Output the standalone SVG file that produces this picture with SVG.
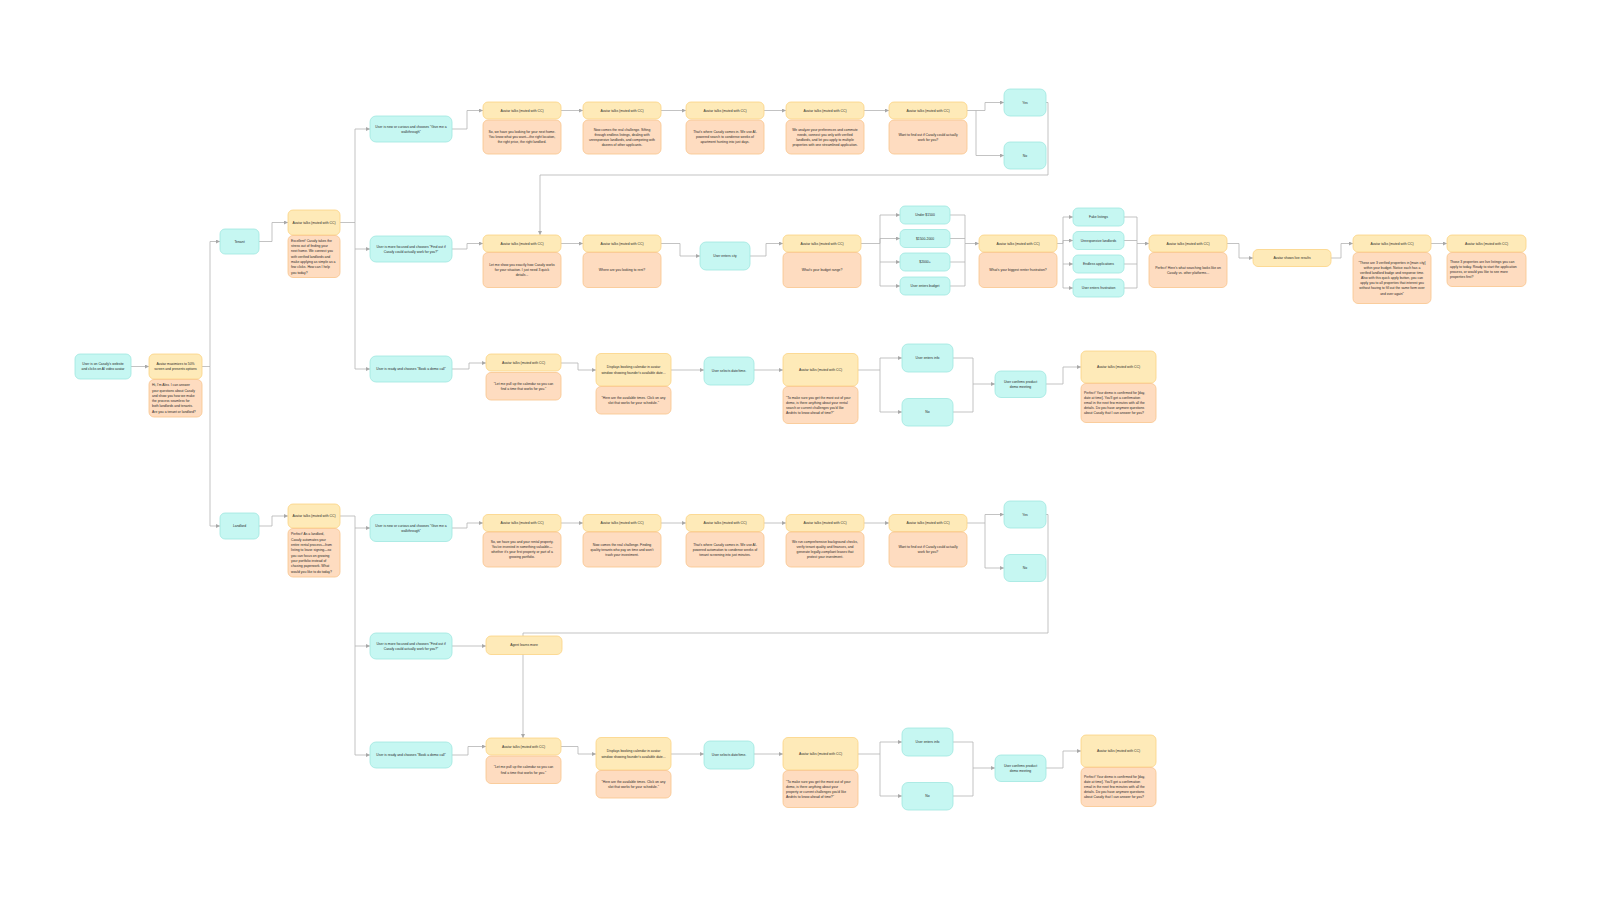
<svg xmlns="http://www.w3.org/2000/svg" width="1600" height="899" viewBox="0 0 1600 899">
<defs>
<marker id="arr" markerUnits="userSpaceOnUse" markerWidth="4" markerHeight="4" refX="4" refY="2" orient="auto"><path d="M0,0 L4,2 L0,4 z" fill="#a8a8a8"/></marker>
<style>
.c{fill:#c6f7f2;stroke:#a0e7df;stroke-width:0.8}
.y{fill:#feeab8;stroke:#fbd383;stroke-width:0.8}
.o{fill:#fedcc0;stroke:#f9c48c;stroke-width:0.8}
.t{font-family:"Liberation Sans",Arial,sans-serif;font-size:3.4px;fill:#2a2a2a;text-anchor:middle}
.l{text-anchor:start}
.e{fill:none;stroke:#b4b4b4;stroke-width:0.8;stroke-linejoin:round;marker-end:url(#arr)}
.n{fill:none;stroke:#b4b4b4;stroke-width:0.8;stroke-linejoin:round}
</style>
</defs>
<rect width="1600" height="899" fill="#ffffff"/>
<g id="connectors">
<path class="e" d="M131,366.5 H149"/>
<path class="e" d="M202,366.5 H210 V241.5 H220"/>
<path class="e" d="M210,366.5 V526 H220"/>
<path class="e" d="M259,241.5 H272 V222.5 H288"/>
<path class="e" d="M259,526 H272 V516 H288"/>
<path class="e" d="M340,222.5 H355 V129 H370"/>
<path class="e" d="M355,222.5 V249 H370"/>
<path class="e" d="M355,249 V369 H370"/>
<path class="e" d="M452,129 H467 V110.5 H483"/>
<path class="e" d="M561,110.5 H583"/>
<path class="e" d="M661,110.5 H686"/>
<path class="e" d="M764,110.5 H786"/>
<path class="e" d="M864,110.5 H889"/>
<path class="e" d="M967,110.5 H985 V102.5 H1004"/>
<path class="e" d="M976,110.5 V155.5 H1004"/>
<path class="e" d="M1046,102.5 H1048 V175 H540 V235"/>
<path class="e" d="M452,249 H467 V243.5 H483"/>
<path class="e" d="M561,243.5 H583"/>
<path class="e" d="M661,243.5 H680 V256 H700"/>
<path class="e" d="M750,256 H766 V243.5 H783"/>
<path class="e" d="M861,243.5 H880 V215 H900"/>
<path class="e" d="M880,243.5 V238.5 H900"/>
<path class="e" d="M880,243.5 V262 H900"/>
<path class="e" d="M880,262 V286 H900"/>
<path class="e" d="M950,215 H965 V243.5 H979"/>
<path class="n" d="M950,238.5 H965"/>
<path class="n" d="M950,262 H965 V243.5"/>
<path class="n" d="M950,286 H965 V262"/>
<path class="e" d="M1057,243.5 H1063 V217 H1073"/>
<path class="e" d="M1063,243.5 V240.5 H1073"/>
<path class="e" d="M1063,243.5 V264 H1073"/>
<path class="e" d="M1063,264 V288 H1073"/>
<path class="e" d="M1124,217 H1137 V243.5 H1149"/>
<path class="n" d="M1124,240.5 H1137"/>
<path class="n" d="M1124,264 H1137 V243.5"/>
<path class="n" d="M1124,288 H1137 V264"/>
<path class="e" d="M1227,243.5 H1239 V258 H1253"/>
<path class="e" d="M1331,258 H1341 V243.5 H1353"/>
<path class="e" d="M1431,243.5 H1447"/>
<path class="e" d="M452,369 H469 V363 H486"/>
<path class="e" d="M561,363 H578 V370 H596"/>
<path class="e" d="M671,370 H704"/>
<path class="e" d="M754,370 H783"/>
<path class="e" d="M858,370 H880 V358 H902"/>
<path class="e" d="M880,370 V412 H902"/>
<path class="e" d="M953,358 H973 V384 H995"/>
<path class="n" d="M953,412 H973 V384"/>
<path class="e" d="M1046,384 H1063 V367 H1081"/>
<path class="e" d="M340,516 H355 V528 H370"/>
<path class="e" d="M355,528 V646 H370"/>
<path class="e" d="M355,646 V755 H370"/>
<path class="e" d="M452,528 H467 V523 H483"/>
<path class="e" d="M561,523 H583"/>
<path class="e" d="M661,523 H686"/>
<path class="e" d="M764,523 H786"/>
<path class="e" d="M864,523 H889"/>
<path class="e" d="M967,523 H985 V514.5 H1004"/>
<path class="e" d="M985,523 V568 H1004"/>
<path class="e" d="M1046,514.5 H1048 V633 H523 V738"/>
<path class="e" d="M452,646 H486"/>
<path class="e" d="M452,755 H468 V746.5 H486"/>
<path class="e" d="M561,746.5 H578 V754 H596"/>
<path class="e" d="M671,754 H704"/>
<path class="e" d="M754,754 H783"/>
<path class="e" d="M858,754 H880 V742 H902"/>
<path class="e" d="M880,754 V796 H902"/>
<path class="e" d="M953,742 H973 V768 H995"/>
<path class="n" d="M953,796 H973 V768"/>
<path class="e" d="M1046,768 H1063 V751 H1081"/>
</g>

<g id="start"><rect class="c" x="75" y="354" width="56" height="25" rx="5"/><text class="t" x="103" y="365.15"><tspan x="103">User is on Casafy's website</tspan><tspan x="103" dy="5.1">and clicks on AI video avatar</tspan></text></g>
<g id="maximize"><rect class="y" x="149" y="354" width="53" height="25" rx="5"/><text class="t" x="175.5" y="365.15"><tspan x="175.5">Avatar maximizes to 50%</tspan><tspan x="175.5" dy="5.1">screen and presents options</tspan></text>
<rect class="o" x="149" y="379.5" width="53" height="37.5" rx="5"/><text class="t l" x="152" y="386.2"><tspan x="152">Hi, I'm Alex. I can answer</tspan><tspan x="152" dy="5.3">your questions about Casafy</tspan><tspan x="152" dy="5.3">and show you how we make</tspan><tspan x="152" dy="5.3">the process seamless for</tspan><tspan x="152" dy="5.3">both landlords and tenants.</tspan><tspan x="152" dy="5.3">Are you a tenant or landlord?</tspan></text></g>
<g id="tenant"><rect class="c" x="220" y="229" width="39" height="25" rx="5"/><text class="t" x="239.5" y="242.7">Tenant</text></g>
<g id="tenant-avatar"><rect class="y" x="288" y="210" width="52" height="25" rx="5"/><text class="t" x="314" y="223.7">Avatar talks (muted with CC)</text>
<rect class="o" x="288" y="235.5" width="52" height="42" rx="5"/><text class="t l" x="291" y="241.8"><tspan x="291">Excellent! Casafy takes the</tspan><tspan x="291" dy="5.3">stress out of finding your</tspan><tspan x="291" dy="5.3">next home. We connect you</tspan><tspan x="291" dy="5.3">with verified landlords and</tspan><tspan x="291" dy="5.3">make applying as simple as a</tspan><tspan x="291" dy="5.3">few clicks. How can I help</tspan><tspan x="291" dy="5.3">you today?</tspan></text></g>
<g id="landlord"><rect class="c" x="220" y="513" width="39" height="26" rx="5"/><text class="t" x="239.5" y="527.2">Landlord</text></g>
<g id="landlord-avatar"><rect class="y" x="288" y="504" width="52" height="24" rx="5"/><text class="t" x="314" y="517.2">Avatar talks (muted with CC)</text>
<rect class="o" x="288" y="528.5" width="52" height="48.5" rx="5"/><text class="t l" x="291" y="535.4"><tspan x="291">Perfect! As a landlord,</tspan><tspan x="291" dy="5.3">Casafy automates your</tspan><tspan x="291" dy="5.3">entire rental process—from</tspan><tspan x="291" dy="5.3">listing to lease signing—so</tspan><tspan x="291" dy="5.3">you can focus on growing</tspan><tspan x="291" dy="5.3">your portfolio instead of</tspan><tspan x="291" dy="5.3">chasing paperwork. What</tspan><tspan x="291" dy="5.3">would you like to do today?</tspan></text></g>

<g id="t-walk"><rect class="c" x="370" y="116" width="82" height="26" rx="6"/><text class="t" x="411" y="127.65"><tspan x="411">User is new or curious and chooses "Give me a</tspan><tspan x="411" dy="5.1">walkthrough"</tspan></text></g>
<g id="t-w1"><rect class="y" x="483" y="102" width="78" height="17" rx="5"/><text class="t" x="522" y="111.7">Avatar talks (muted with CC)</text>
<rect class="o" x="483" y="120" width="78" height="34" rx="5"/><text class="t" x="522" y="133.1"><tspan x="522">So, we have you looking for your next home.</tspan><tspan x="522" dy="5.1">You know what you want—the right location,</tspan><tspan x="522" dy="5.1">the right price, the right landlord.</tspan></text></g>
<g id="t-w2"><rect class="y" x="583" y="102" width="78" height="17" rx="5"/><text class="t" x="622" y="111.7">Avatar talks (muted with CC)</text>
<rect class="o" x="583" y="120" width="78" height="34" rx="5"/><text class="t" x="622" y="130.55"><tspan x="622">Now comes the real challenge. Sifting</tspan><tspan x="622" dy="5.1">through endless listings, dealing with</tspan><tspan x="622" dy="5.1">unresponsive landlords, and competing with</tspan><tspan x="622" dy="5.1">dozens of other applicants.</tspan></text></g>
<g id="t-w3"><rect class="y" x="686" y="102" width="78" height="17" rx="5"/><text class="t" x="725" y="111.7">Avatar talks (muted with CC)</text>
<rect class="o" x="686" y="120" width="78" height="34" rx="5"/><text class="t" x="725" y="133.1"><tspan x="725">That's where Casafy comes in. We use AI-</tspan><tspan x="725" dy="5.1">powered search to condense weeks of</tspan><tspan x="725" dy="5.1">apartment hunting into just days.</tspan></text></g>
<g id="t-w4"><rect class="y" x="786" y="102" width="78" height="17" rx="5"/><text class="t" x="825" y="111.7">Avatar talks (muted with CC)</text>
<rect class="o" x="786" y="120" width="78" height="34" rx="5"/><text class="t" x="825" y="130.55"><tspan x="825">We analyze your preferences and commute</tspan><tspan x="825" dy="5.1">needs, connect you only with verified</tspan><tspan x="825" dy="5.1">landlords, and let you apply to multiple</tspan><tspan x="825" dy="5.1">properties with one streamlined application.</tspan></text></g>
<g id="t-w5"><rect class="y" x="889" y="102" width="78" height="17" rx="5"/><text class="t" x="928" y="111.7">Avatar talks (muted with CC)</text>
<rect class="o" x="889" y="120" width="78" height="34" rx="5"/><text class="t" x="928" y="135.65"><tspan x="928">Want to find out if Casafy could actually</tspan><tspan x="928" dy="5.1">work for you?</tspan></text></g>
<g id="t-yes"><rect class="c" x="1004" y="89" width="42" height="27" rx="6"/><text class="t" x="1025" y="103.7">Yes</text></g>
<g id="t-no"><rect class="c" x="1004" y="142" width="42" height="27" rx="6"/><text class="t" x="1025" y="156.7">No</text></g>

<g id="t-find"><rect class="c" x="370" y="236" width="82" height="26" rx="6"/><text class="t" x="411" y="247.65"><tspan x="411">User is more focused and chooses "Find out if</tspan><tspan x="411" dy="5.1">Casafy could actually work for you?"</tspan></text></g>
<g id="t-f1"><rect class="y" x="483" y="235" width="78" height="17" rx="5"/><text class="t" x="522" y="244.7">Avatar talks (muted with CC)</text>
<rect class="o" x="483" y="252.5" width="78" height="35" rx="5"/><text class="t" x="522" y="266.1"><tspan x="522">Let me show you exactly how Casafy works</tspan><tspan x="522" dy="5.1">for your situation. I just need 3 quick</tspan><tspan x="522" dy="5.1">details...</tspan></text></g>
<g id="t-f2"><rect class="y" x="583" y="235" width="78" height="17" rx="5"/><text class="t" x="622" y="244.7">Avatar talks (muted with CC)</text>
<rect class="o" x="583" y="252.5" width="78" height="35" rx="5"/><text class="t" x="622" y="271.2">Where are you looking to rent?</text></g>
<g id="t-city"><rect class="c" x="700" y="242" width="50" height="28" rx="6"/><text class="t" x="725" y="257.2">User enters city</text></g>
<g id="t-f3"><rect class="y" x="783" y="235" width="78" height="17" rx="5"/><text class="t" x="822" y="244.7">Avatar talks (muted with CC)</text>
<rect class="o" x="783" y="252.5" width="78" height="35" rx="5"/><text class="t" x="822" y="271.2">What's your budget range?</text></g>
<g id="t-b1"><rect class="c" x="900" y="206" width="50" height="18" rx="5"/><text class="t" x="925" y="216.2">Under $1500</text></g>
<g id="t-b2"><rect class="c" x="900" y="229.5" width="50" height="18" rx="5"/><text class="t" x="925" y="239.7">$1500-2000</text></g>
<g id="t-b3"><rect class="c" x="900" y="253" width="50" height="18" rx="5"/><text class="t" x="925" y="263.2">$2000+</text></g>
<g id="t-b4"><rect class="c" x="900" y="277" width="50" height="18" rx="5"/><text class="t" x="925" y="287.2">User enters budget</text></g>
<g id="t-f4"><rect class="y" x="979" y="235" width="78" height="17" rx="5"/><text class="t" x="1018" y="244.7">Avatar talks (muted with CC)</text>
<rect class="o" x="979" y="252.5" width="78" height="35" rx="5"/><text class="t" x="1018" y="271.2">What's your biggest renter frustration?</text></g>
<g id="t-r1"><rect class="c" x="1073" y="208" width="51" height="18" rx="5"/><text class="t" x="1098.5" y="218.2">Fake listings</text></g>
<g id="t-r2"><rect class="c" x="1073" y="231.5" width="51" height="18" rx="5"/><text class="t" x="1098.5" y="241.7">Unresponsive landlords</text></g>
<g id="t-r3"><rect class="c" x="1073" y="255" width="51" height="18" rx="5"/><text class="t" x="1098.5" y="265.2">Endless applications</text></g>
<g id="t-r4"><rect class="c" x="1073" y="279" width="51" height="18" rx="5"/><text class="t" x="1098.5" y="289.2">User enters frustration</text></g>
<g id="t-f5"><rect class="y" x="1149" y="235" width="78" height="17" rx="5"/><text class="t" x="1188" y="244.7">Avatar talks (muted with CC)</text>
<rect class="o" x="1149" y="252.5" width="78" height="35" rx="5"/><text class="t" x="1188" y="268.65"><tspan x="1188">Perfect! Here's what searching looks like on</tspan><tspan x="1188" dy="5.1">Casafy vs. other platforms...</tspan></text></g>
<g id="t-live"><rect class="y" x="1253" y="249.5" width="78" height="17" rx="5"/><text class="t" x="1292" y="259.2">Avatar shows live results</text></g>
<g id="t-f6"><rect class="y" x="1353" y="235" width="78" height="17" rx="5"/><text class="t" x="1392" y="244.7">Avatar talks (muted with CC)</text>
<rect class="o" x="1353" y="252.5" width="78" height="51" rx="5"/><text class="t" x="1392" y="263.9"><tspan x="1392">"These are 3 verified properties in [main city]</tspan><tspan x="1392" dy="5.1">within your budget. Notice each has a</tspan><tspan x="1392" dy="5.1">verified landlord badge and response time.</tspan><tspan x="1392" dy="5.1">Also with this quick apply button, you can</tspan><tspan x="1392" dy="5.1">apply you to all properties that interest you</tspan><tspan x="1392" dy="5.1">without having to fill out the same form over</tspan><tspan x="1392" dy="5.1">and over again"</tspan></text></g>
<g id="t-f7"><rect class="y" x="1447" y="235" width="79" height="17" rx="5"/><text class="t" x="1486.5" y="244.7">Avatar talks (muted with CC)</text>
<rect class="o" x="1447" y="252.5" width="79" height="34" rx="5"/><text class="t l" x="1450" y="263.05"><tspan x="1450">Those 3 properties are live listings you can</tspan><tspan x="1450" dy="5.1">apply to today. Ready to start the application</tspan><tspan x="1450" dy="5.1">process, or would you like to see more</tspan><tspan x="1450" dy="5.1">properties first?</tspan></text></g>

<g id="t-demo"><rect class="c" x="370" y="356" width="82" height="26" rx="6"/><text class="t" x="411" y="370.2">User is ready and chooses "Book a demo call"</text></g>
<g id="t-d1"><rect class="y" x="486" y="354" width="75" height="17" rx="5"/><text class="t" x="523.5" y="363.7">Avatar talks (muted with CC)</text>
<rect class="o" x="486" y="372.5" width="75" height="27.5" rx="5"/><text class="t" x="523.5" y="384.9"><tspan x="523.5">"Let me pull up the calendar so you can</tspan><tspan x="523.5" dy="5.1">find a time that works for you."</tspan></text></g>
<g id="t-d2"><rect class="y" x="596" y="353.5" width="75" height="32.5" rx="5"/><text class="t" x="633.5" y="368.4"><tspan x="633.5">Displays booking calendar in avatar</tspan><tspan x="633.5" dy="5.1">window showing founder's available date...</tspan></text>
<rect class="o" x="596" y="386.5" width="75" height="27.5" rx="5"/><text class="t" x="633.5" y="398.9"><tspan x="633.5">"Here are the available times. Click on any</tspan><tspan x="633.5" dy="5.1">slot that works for your schedule."</tspan></text></g>
<g id="t-sel"><rect class="c" x="704" y="357" width="50" height="28" rx="6"/><text class="t" x="729" y="372.2">User selects date/time.</text></g>
<g id="t-d3"><rect class="y" x="783" y="353.5" width="75" height="32.5" rx="5"/><text class="t" x="820.5" y="370.95">Avatar talks (muted with CC)</text>
<rect class="o" x="783" y="386.5" width="75" height="37" rx="5"/><text class="t l" x="786" y="398.55"><tspan x="786">"To make sure you get the most out of your</tspan><tspan x="786" dy="5.1">demo, is there anything about your rental</tspan><tspan x="786" dy="5.1">search or current challenges you'd like</tspan><tspan x="786" dy="5.1">Andrés to know ahead of time?"</tspan></text></g>
<g id="t-info"><rect class="c" x="902" y="344" width="51" height="28" rx="6"/><text class="t" x="927.5" y="359.2">User enters info</text></g>
<g id="t-dno"><rect class="c" x="902" y="398.5" width="51" height="27.5" rx="6"/><text class="t" x="927.5" y="413.45">No</text></g>
<g id="t-conf"><rect class="c" x="995" y="371" width="51" height="26.5" rx="6"/><text class="t" x="1020.5" y="382.65"><tspan x="1020.5">User confirms product</tspan><tspan x="1020.5" dy="5.1">demo meeting</tspan></text></g>
<g id="t-d4"><rect class="y" x="1081" y="351" width="75" height="32" rx="5"/><text class="t" x="1118.5" y="368.2">Avatar talks (muted with CC)</text>
<rect class="o" x="1081" y="383.5" width="75" height="39" rx="5"/><text class="t l" x="1084" y="394"><tspan x="1084">Perfect! Your demo is confirmed for [day,</tspan><tspan x="1084" dy="5.1">date at time]. You'll get a confirmation</tspan><tspan x="1084" dy="5.1">email in the next few minutes with all the</tspan><tspan x="1084" dy="5.1">details. Do you have anymore questions</tspan><tspan x="1084" dy="5.1">about Casafy that I can answer for you?</tspan></text></g>

<g id="l-walk"><rect class="c" x="370" y="514.5" width="82" height="27" rx="6"/><text class="t" x="411" y="526.65"><tspan x="411">User is new or curious and chooses "Give me a</tspan><tspan x="411" dy="5.1">walkthrough"</tspan></text></g>
<g id="l-w1"><rect class="y" x="483" y="514.5" width="78" height="17" rx="5"/><text class="t" x="522" y="524.2">Avatar talks (muted with CC)</text>
<rect class="o" x="483" y="532" width="78" height="35" rx="5"/><text class="t" x="522" y="543.05"><tspan x="522">So, we have you and your rental property.</tspan><tspan x="522" dy="5.1">You've invested in something valuable—</tspan><tspan x="522" dy="5.1">whether it's your first property or part of a</tspan><tspan x="522" dy="5.1">growing portfolio.</tspan></text></g>
<g id="l-w2"><rect class="y" x="583" y="514.5" width="78" height="17" rx="5"/><text class="t" x="622" y="524.2">Avatar talks (muted with CC)</text>
<rect class="o" x="583" y="532" width="78" height="35" rx="5"/><text class="t" x="622" y="545.6"><tspan x="622">Now comes the real challenge. Finding</tspan><tspan x="622" dy="5.1">quality tenants who pay on time and won't</tspan><tspan x="622" dy="5.1">trash your investment.</tspan></text></g>
<g id="l-w3"><rect class="y" x="686" y="514.5" width="78" height="17" rx="5"/><text class="t" x="725" y="524.2">Avatar talks (muted with CC)</text>
<rect class="o" x="686" y="532" width="78" height="35" rx="5"/><text class="t" x="725" y="545.6"><tspan x="725">That's where Casafy comes in. We use AI-</tspan><tspan x="725" dy="5.1">powered automation to condense weeks of</tspan><tspan x="725" dy="5.1">tenant screening into just minutes.</tspan></text></g>
<g id="l-w4"><rect class="y" x="786" y="514.5" width="78" height="17" rx="5"/><text class="t" x="825" y="524.2">Avatar talks (muted with CC)</text>
<rect class="o" x="786" y="532" width="78" height="35" rx="5"/><text class="t" x="825" y="543.05"><tspan x="825">We run comprehensive background checks,</tspan><tspan x="825" dy="5.1">verify tenant quality and finances, and</tspan><tspan x="825" dy="5.1">generate legally-compliant leases that</tspan><tspan x="825" dy="5.1">protect your investment.</tspan></text></g>
<g id="l-w5"><rect class="y" x="889" y="514.5" width="78" height="17" rx="5"/><text class="t" x="928" y="524.2">Avatar talks (muted with CC)</text>
<rect class="o" x="889" y="532" width="78" height="35" rx="5"/><text class="t" x="928" y="548.15"><tspan x="928">Want to find out if Casafy could actually</tspan><tspan x="928" dy="5.1">work for you?</tspan></text></g>
<g id="l-yes"><rect class="c" x="1004" y="501" width="42" height="27" rx="6"/><text class="t" x="1025" y="515.7">Yes</text></g>
<g id="l-no"><rect class="c" x="1004" y="554.5" width="42" height="27" rx="6"/><text class="t" x="1025" y="569.2">No</text></g>

<g id="l-find"><rect class="c" x="370" y="633" width="82" height="26" rx="6"/><text class="t" x="411" y="644.65"><tspan x="411">User is more focused and chooses "Find out if</tspan><tspan x="411" dy="5.1">Casafy could actually work for you?"</tspan></text></g>
<g id="l-agent"><rect class="y" x="486" y="636" width="76" height="18.5" rx="5"/><text class="t" x="524" y="646.45">Agent learns more</text></g>

<g id="l-demo"><rect class="c" x="370" y="742" width="82" height="26" rx="6"/><text class="t" x="411" y="756.2">User is ready and chooses "Book a demo call"</text></g>
<g id="l-d1"><rect class="y" x="486" y="738" width="75" height="17" rx="5"/><text class="t" x="523.5" y="747.7">Avatar talks (muted with CC)</text>
<rect class="o" x="486" y="756" width="75" height="27.5" rx="5"/><text class="t" x="523.5" y="768.4"><tspan x="523.5">"Let me pull up the calendar so you can</tspan><tspan x="523.5" dy="5.1">find a time that works for you."</tspan></text></g>
<g id="l-d2"><rect class="y" x="596" y="737.5" width="75" height="32.5" rx="5"/><text class="t" x="633.5" y="752.4"><tspan x="633.5">Displays booking calendar in avatar</tspan><tspan x="633.5" dy="5.1">window showing founder's available date...</tspan></text>
<rect class="o" x="596" y="770.5" width="75" height="27.5" rx="5"/><text class="t" x="633.5" y="782.9"><tspan x="633.5">"Here are the available times. Click on any</tspan><tspan x="633.5" dy="5.1">slot that works for your schedule."</tspan></text></g>
<g id="l-sel"><rect class="c" x="704" y="741" width="50" height="28" rx="6"/><text class="t" x="729" y="756.2">User selects date/time.</text></g>
<g id="l-d3"><rect class="y" x="783" y="737.5" width="75" height="32.5" rx="5"/><text class="t" x="820.5" y="754.95">Avatar talks (muted with CC)</text>
<rect class="o" x="783" y="770.5" width="75" height="37" rx="5"/><text class="t l" x="786" y="782.55"><tspan x="786">"To make sure you get the most out of your</tspan><tspan x="786" dy="5.1">demo, is there anything about your</tspan><tspan x="786" dy="5.1">property or current challenges you'd like</tspan><tspan x="786" dy="5.1">Andrés to know ahead of time?"</tspan></text></g>
<g id="l-info"><rect class="c" x="902" y="728" width="51" height="28" rx="6"/><text class="t" x="927.5" y="743.2">User enters info</text></g>
<g id="l-dno"><rect class="c" x="902" y="782.5" width="51" height="27.5" rx="6"/><text class="t" x="927.5" y="797.45">No</text></g>
<g id="l-conf"><rect class="c" x="995" y="755" width="51" height="26.5" rx="6"/><text class="t" x="1020.5" y="766.9"><tspan x="1020.5">User confirms product</tspan><tspan x="1020.5" dy="5.1">demo meeting</tspan></text></g>
<g id="l-d4"><rect class="y" x="1081" y="735" width="75" height="32" rx="5"/><text class="t" x="1118.5" y="752.2">Avatar talks (muted with CC)</text>
<rect class="o" x="1081" y="767.5" width="75" height="39" rx="5"/><text class="t l" x="1084" y="778"><tspan x="1084">Perfect! Your demo is confirmed for [day,</tspan><tspan x="1084" dy="5.1">date at time]. You'll get a confirmation</tspan><tspan x="1084" dy="5.1">email in the next few minutes with all the</tspan><tspan x="1084" dy="5.1">details. Do you have anymore questions</tspan><tspan x="1084" dy="5.1">about Casafy that I can answer for you?</tspan></text></g>
</svg>
